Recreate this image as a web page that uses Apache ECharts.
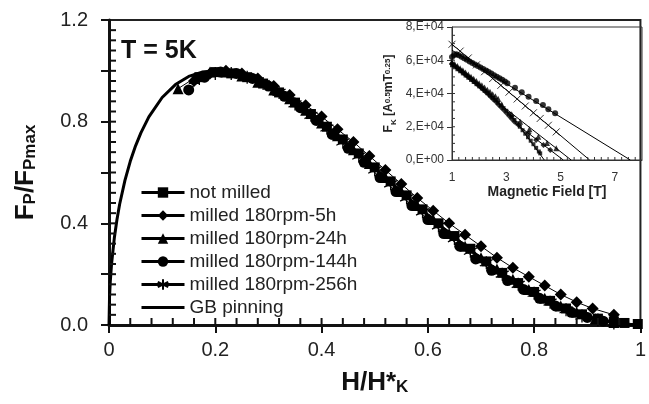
<!DOCTYPE html>
<html>
<head>
<meta charset="utf-8">
<script src="https://cdn.jsdelivr.net/npm/echarts@6/dist/echarts.min.js"></script>
<style>html,body{margin:0;padding:0;background:#fff}#c{width:649px;height:404px}</style>
</head>
<body>
<div id="c"></div>
<script>
// ---------- main plot data: [H/H*K, Fp/Fpmax] ----------
const xTickLabels = ['0', '0.2', '0.4', '0.6', '0.8', '1'];
const yTickLabels = ['0.0', '0.4', '0.8', '1.2'];
const seriesNames = ['not milled', 'milled 180rpm-5h', 'milled 180rpm-24h', 'milled 180rpm-144h', 'milled 180rpm-256h', 'GB pinning'];

const notMilled = [[0.17,0.975],[0.20,0.995],[0.23,0.99],[0.26,0.975],[0.29,0.95],[0.32,0.915],[0.35,0.875],[0.38,0.83],[0.41,0.78],[0.44,0.73],[0.47,0.675],[0.50,0.62],[0.53,0.565],[0.56,0.51],[0.59,0.455],[0.62,0.40],[0.65,0.35],[0.68,0.30],[0.71,0.25],[0.74,0.205],[0.77,0.165],[0.80,0.13],[0.83,0.095],[0.86,0.065],[0.89,0.042],[0.92,0.025],[0.95,0.014],[0.97,0.008],[0.995,0.004]];
const milled5h = [[0.16,0.96],[0.19,0.99],[0.22,1.0],[0.25,0.99],[0.28,0.97],[0.31,0.94],[0.34,0.905],[0.37,0.865],[0.40,0.82],[0.43,0.77],[0.46,0.72],[0.49,0.665],[0.52,0.61],[0.55,0.555],[0.58,0.50],[0.61,0.45],[0.64,0.40],[0.67,0.355],[0.70,0.31],[0.73,0.265],[0.76,0.225],[0.79,0.19],[0.82,0.155],[0.85,0.12],[0.88,0.09],[0.91,0.065],[0.95,0.04]];
const milled24h = [[0.13,0.93],[0.16,0.97],[0.19,0.995],[0.22,0.995],[0.25,0.98],[0.28,0.955],[0.31,0.925],[0.34,0.89],[0.37,0.845],[0.40,0.795],[0.43,0.745],[0.46,0.69],[0.49,0.635],[0.52,0.58],[0.55,0.525],[0.58,0.47],[0.61,0.415],[0.64,0.36],[0.67,0.31],[0.70,0.265],[0.73,0.22],[0.76,0.18],[0.79,0.14],[0.82,0.105],[0.85,0.075],[0.88,0.05],[0.915,0.025],[0.95,0.01]];
const milled144h = [[0.15,0.925],[0.18,0.975],[0.21,0.995],[0.24,0.99],[0.27,0.97],[0.30,0.94],[0.33,0.90],[0.36,0.855],[0.39,0.805],[0.42,0.75],[0.45,0.695],[0.48,0.64],[0.51,0.58],[0.54,0.525],[0.57,0.47],[0.60,0.415],[0.63,0.36],[0.66,0.31],[0.69,0.26],[0.72,0.215],[0.75,0.175],[0.78,0.14],[0.81,0.105],[0.84,0.075],[0.87,0.05],[0.90,0.03],[0.93,0.015]];
const milled256h = [[0.17,0.97],[0.20,0.99],[0.23,0.99],[0.26,0.975],[0.29,0.95],[0.32,0.915],[0.35,0.87],[0.38,0.825],[0.41,0.775],[0.44,0.72],[0.47,0.665],[0.50,0.61],[0.53,0.555],[0.56,0.50],[0.59,0.445],[0.62,0.39],[0.65,0.34],[0.68,0.29],[0.71,0.245],[0.74,0.20],[0.77,0.16],[0.80,0.125],[0.83,0.09],[0.86,0.06],[0.89,0.035],[0.92,0.02],[0.95,0.008]];
const gbPinning = [[0,0],[0.001,0.110],[0.0025,0.174],[0.005,0.245],[0.01,0.342],[0.015,0.415],[0.02,0.475],[0.03,0.569],[0.04,0.644],[0.05,0.705],[0.06,0.756],[0.075,0.819],[0.1,0.895],[0.125,0.946],[0.15,0.978],[0.175,0.995],[0.2,1.0],[0.225,0.995],[0.25,0.983],[0.275,0.963],[0.3,0.938],[0.325,0.9075],[0.35,0.873],[0.375,0.836],[0.4,0.796],[0.425,0.753],[0.45,0.709],[0.475,0.664],[0.5,0.618],[0.525,0.571],[0.55,0.525],[0.575,0.479],[0.6,0.433],[0.625,0.388],[0.65,0.345],[0.675,0.303],[0.7,0.263],[0.725,0.225],[0.75,0.189],[0.775,0.156],[0.8,0.125],[0.825,0.0972],[0.85,0.0725],[0.875,0.0511],[0.9,0.0331],[0.925,0.0189],[0.95,0.0085],[0.975,0.0022],[1.0,0]];

// ---------- inset data: [B (T), F_K] ----------
const insetXLabels = ['1', '3', '5', '7'];
const insetYLabels = ['0,E+00', '2,E+04', '4,E+04', '6,E+04', '8,E+04'];

const kNotMilled = [[1.0,57000],[1.1,55800],[1.2,54600],[1.3,53400],[1.4,52100],[1.5,50800],[1.6,49500],[1.7,48200],[1.8,46900],[1.9,45600],[2.0,44300],[2.1,43000],[2.2,41600],[2.3,40200],[2.4,38800],[2.5,37400],[2.6,35900],[2.7,34400],[2.8,32800],[2.9,31200],[3.0,29600],[3.1,27800],[3.2,26000],[3.3,24100],[3.4,22100],[3.5,20000],[3.6,17900],[3.7,15800],[3.8,13700],[3.9,11600],[4.0,9500],[4.1,7300],[4.2,5100],[4.25,4000]];
const k5h = [[1.0,58000],[1.1,56700],[1.2,55400],[1.3,54100],[1.4,52800],[1.5,51500],[1.6,50100],[1.7,48800],[1.8,47400],[1.9,46000],[2.0,44600],[2.1,43100],[2.2,41600],[2.3,40100],[2.4,38500],[2.5,36900],[2.6,35300],[2.7,33600],[2.8,31900],[2.9,30200],[3.0,28400],[3.1,26600],[3.2,24800],[3.3,23000],[3.45,21000],[3.82,16000],[4.1,12000],[4.37,9000],[4.62,6000]];
const k24h = [[1.0,59000],[1.1,57700],[1.2,56500],[1.3,55200],[1.4,54000],[1.5,52700],[1.6,51400],[1.7,50100],[1.8,48800],[1.9,47500],[2.0,46200],[2.1,44900],[2.2,43600],[2.3,42300],[2.4,41000],[2.5,39600],[2.6,38300],[2.7,36900],[2.83,33500],[3.2,27500],[3.51,23000],[3.85,18500],[4.18,14000],[4.5,10300],[4.84,7000]];
const k144h = [[1.0,62000],[1.08,63200],[1.16,63600],[1.25,63000],[1.35,62100],[1.45,61200],[1.55,60300],[1.65,59300],[1.75,58400],[1.85,57500],[1.95,56600],[2.05,55600],[2.15,54700],[2.25,53800],[2.35,52900],[2.45,52000],[2.55,51000],[2.65,50100],[2.75,49200],[2.85,48200],[2.95,47200],[3.04,46200],[3.32,43500],[3.57,40700],[3.82,38100],[4.1,35500],[4.35,33100],[4.55,30500],[4.8,28100]];
const k256h = [[1.0,69600],[1.3,65500],[1.6,61400],[1.9,57200],[2.2,53100],[2.5,49000],[2.8,44900],[3.1,40800],[3.4,36700],[3.7,32500],[4.0,28400],[4.25,25000],[4.55,20900],[4.84,16900]];
const fitNotMilled = [[3.5,20000],[4.4,0]];
const fit5h = [[3.3,22500],[5.1,0]];
const fit24h = [[2.6,35700],[5.39,0]];
const fit144h = [[1.0,66000],[7.57,0]];
const fit256h = [[1.0,69600],[6.07,0]];

// ---------- inner (minor) tick values ----------
const mainXMinor = [0.04,0.08,0.12,0.16,0.2,0.24,0.28,0.32,0.36,0.4,0.44,0.48,0.52,0.56,0.6,0.64,0.68,0.72,0.76,0.8,0.84,0.88,0.92,0.96];
const mainYMinor = [0.04,0.08,0.12,0.16,0.2,0.24,0.28,0.32,0.36,0.4,0.44,0.48,0.52,0.56,0.6,0.64,0.68,0.72,0.76,0.8,0.84,0.88,0.92,0.96,1,1.04,1.08,1.12,1.16];
const insetXMinor = [1.25,1.5,1.75,2,2.25,2.5,2.75,3,3.25,3.5,3.75,4,4.25,4.5,4.75,5,5.25,5.5,5.75,6,6.25,6.5,6.75,7,7.25,7.5,7.75];
const insetYMinor = [5000,10000,15000,20000,25000,30000,35000,40000,45000,50000,55000,60000,65000,70000,75000];

const FONT = "'Liberation Sans', Arial, Helvetica, sans-serif";
const asterisk = 'path://M0,-10L0,10M-8.66,-5L8.66,5M-8.66,5L8.66,-5';
const xMark = 'path://M-8,-8L8,8M-8,8L8,-8';
const lineIcon = 'path://M0,0H0.01V0.01H0Z M0,5H43V8H0Z M43,13H42.99V12.99H43Z';

function mainSeries(name, data, symbol, size) {
  const isPath = symbol.indexOf('path://') === 0;
  return {
    name: name, type: 'line', xAxisIndex: 0, yAxisIndex: 0, data: data,
    symbol: symbol, symbolSize: size, showAllSymbol: true,
    lineStyle: { color: '#000', width: 1 },
    itemStyle: isPath ? { color: '#000', borderColor: '#000', borderWidth: 1.3 } : { color: '#000', borderColor: '#000', borderWidth: 0 },
    z: 3
  };
}
function insetPoints(name, data, symbol, size) {
  const isPath = symbol.indexOf('path://') === 0;
  return {
    name: name, type: 'scatter', xAxisIndex: 1, yAxisIndex: 1, data: data,
    symbol: symbol, symbolSize: size,
    itemStyle: isPath ? { color: '#000', borderColor: '#000', borderWidth: 1 } : { color: '#000' },
    z: 4
  };
}
function insetFit(name, data) {
  return {
    name: name, type: 'line', xAxisIndex: 1, yAxisIndex: 1, data: data,
    symbol: 'none', lineStyle: { color: '#000', width: 1 }, z: 3
  };
}
// inner ticks, placed through the axes' own scales
function tickSeries(name, axisIdx, values, vertical, base, len, width, color) {
  return {
    name: name, type: 'custom', coordinateSystem: 'cartesian2d',
    xAxisIndex: axisIdx, yAxisIndex: axisIdx, silent: true, clip: false, z: 10,
    data: values.map(v => vertical ? [v, base] : [base, v]),
    renderItem: function (params, api) {
      const p = api.coord([api.value(0), api.value(1)]);
      const shape = vertical
        ? { x1: p[0], y1: p[1], x2: p[0], y2: p[1] - len }
        : { x1: p[0], y1: p[1], x2: p[0] + len, y2: p[1] };
      return { type: 'line', shape: shape, style: { stroke: color, lineWidth: width } };
    }
  };
}

const chart = echarts.init(document.getElementById('c'), null, { renderer: 'canvas' });
chart.setOption({
  animation: false,
  backgroundColor: '#fff',
  textStyle: { fontFamily: FONT },
  title: {
    text: 'T = 5K', left: 116, top: 34,
    textStyle: { fontFamily: FONT, fontSize: 25, fontWeight: 'bold', color: '#111' }
  },
  legend: {
    data: seriesNames.slice(0, 5).map(n => ({ name: n })).concat([{ name: seriesNames[5], icon: lineIcon }]),
    orient: 'vertical', left: 140, top: 183, padding: 0,
    itemWidth: 43, itemHeight: 13, itemGap: 4,
    lineStyle: { width: 3 },
    textStyle: { fontFamily: FONT, fontSize: 19, color: '#222', lineHeight: 19 }
  },
  grid: [
    { left: 107, right: 3, top: 20, bottom: 79, show: true, borderColor: '#222', borderWidth: 2, backgroundColor: 'transparent' },
    { left: 452, right: 7, top: 27, bottom: 244, show: true, borderColor: '#333', borderWidth: 1, backgroundColor: 'transparent' }
  ],
  xAxis: [
    {
      gridIndex: 0, type: 'value', min: 0, max: 1, interval: 0.2,
      axisLine: { lineStyle: { color: '#111', width: 3 } },
      axisTick: { show: true, inside: false, length: 8, lineStyle: { color: '#111', width: 2 } },
      axisLabel: { fontFamily: FONT, fontSize: 20, color: '#222', margin: 15, formatter: v => xTickLabels[Math.round(v / 0.2)] },
      splitLine: { show: false },
      name: '{m|H/H*}{s|K}', nameLocation: 'middle', nameGap: 44,
      nameTextStyle: {
        rich: {
          m: { fontFamily: FONT, fontSize: 26, fontWeight: 'bold', color: '#111', lineHeight: 26, verticalAlign: 'top' },
          s: { fontFamily: FONT, fontSize: 17, fontWeight: 'bold', color: '#111', lineHeight: 17, padding: [14, 0, 0, 0], verticalAlign: 'bottom' }
        }
      }
    },
    {
      gridIndex: 1, type: 'value', min: 1, max: 8, interval: 1,
      axisLine: { lineStyle: { color: '#333', width: 1 } },
      axisTick: { show: false },
      axisLabel: { fontFamily: FONT, fontSize: 12, color: '#333', margin: 12,
        formatter: v => { const i = Math.round(v); return i % 2 === 1 ? insetXLabels[(i - 1) / 2] : ''; } },
      splitLine: { show: false },
      name: 'Magnetic Field [T]', nameLocation: 'middle', nameGap: 21,
      nameTextStyle: { fontFamily: FONT, fontSize: 14, fontWeight: 'bold', color: '#222' }
    }
  ],
  yAxis: [
    {
      gridIndex: 0, type: 'value', min: 0, max: 1.2, interval: 0.2,
      axisLine: { lineStyle: { color: '#111', width: 3 } },
      axisTick: { show: true, inside: false, length: 8, lineStyle: { color: '#111', width: 2 } },
      axisLabel: { fontFamily: FONT, fontSize: 20, color: '#222', margin: 21,
        formatter: v => { const i = Math.round(v / 0.2); return i % 2 ? '' : yTickLabels[i / 2]; } },
      splitLine: { show: false },
      name: '{m|F}{s|P}{m|/F}{s|Pmax}', nameLocation: 'middle', nameRotate: 90, nameGap: 70,
      nameTextStyle: {
        rich: {
          m: { fontFamily: FONT, fontSize: 26, fontWeight: 'bold', color: '#111', lineHeight: 26, verticalAlign: 'top' },
          s: { fontFamily: FONT, fontSize: 17, fontWeight: 'bold', color: '#111', lineHeight: 17, padding: [14, 0, 0, 0], verticalAlign: 'bottom' }
        }
      }
    },
    {
      gridIndex: 1, type: 'value', min: 0, max: 80000, interval: 20000,
      axisLine: { lineStyle: { color: '#333', width: 1 } },
      axisTick: { show: true, inside: false, length: 5, lineStyle: { color: '#333', width: 1 } },
      axisLabel: { fontFamily: FONT, fontSize: 12, color: '#333', margin: 8,
        formatter: v => insetYLabels[Math.round(v / 20000)] },
      splitLine: { show: false },
      name: '{m|F}{s|K}{m| [A}{p|0.5}{m|mT}{p|0.25}{m|]}', nameLocation: 'middle', nameRotate: 90, nameGap: 54,
      nameTextStyle: {
        rich: {
          m: { fontFamily: FONT, fontSize: 12, fontWeight: 'bold', color: '#222', lineHeight: 14, padding: [0, 0, 3, 0], verticalAlign: 'bottom' },
          s: { fontFamily: FONT, fontSize: 8, fontWeight: 'bold', color: '#222', lineHeight: 8, verticalAlign: 'bottom' },
          p: { fontFamily: FONT, fontSize: 8, fontWeight: 'bold', color: '#222', lineHeight: 8, padding: [0, 0, 10, 0], verticalAlign: 'top' }
        }
      }
    }
  ],
  series: [
    {
      name: seriesNames[5], type: 'line', xAxisIndex: 0, yAxisIndex: 0, data: gbPinning,
      symbol: 'none', lineStyle: { color: '#000', width: 3 }, itemStyle: { color: '#000' }, z: 2
    },
    mainSeries(seriesNames[0], notMilled, 'rect', 10),
    mainSeries(seriesNames[1], milled5h, 'diamond', 12),
    mainSeries(seriesNames[2], milled24h, 'triangle', 11),
    mainSeries(seriesNames[3], milled144h, 'circle', 11),
    mainSeries(seriesNames[4], milled256h, asterisk, 13),
    insetFit('fit not milled', fitNotMilled),
    insetFit('fit 5h', fit5h),
    insetFit('fit 24h', fit24h),
    insetFit('fit 144h', fit144h),
    insetFit('fit 256h', fit256h),
    insetPoints('K not milled', kNotMilled, 'rect', 4),
    insetPoints('K 5h', k5h, 'diamond', 6),
    insetPoints('K 24h', k24h, 'triangle', 6),
    insetPoints('K 144h', k144h, 'circle', 6),
    insetPoints('K 256h', k256h, xMark, 7),
    tickSeries('ticks main x', 0, mainXMinor, true, 0, 7, 2, '#111'),
    tickSeries('ticks main y', 0, mainYMinor, false, 0, 7, 2, '#111'),
    tickSeries('ticks inset x', 1, insetXMinor, true, 1, 3, 1, '#333'),
    tickSeries('ticks inset y', 1, insetYMinor, false, 1, 3, 1, '#333')
  ]
});
</script>
</body>
</html>
